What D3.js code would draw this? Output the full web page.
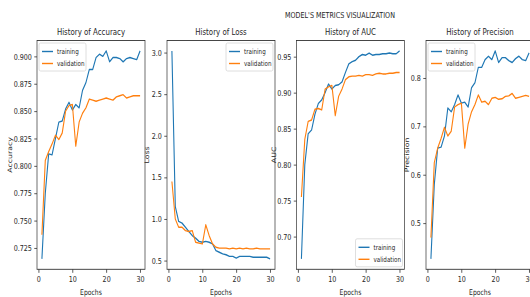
<!DOCTYPE html>
<html><head><meta charset="utf-8">
<script src="https://cdn.jsdelivr.net/npm/d3@7"></script>
<style>body{margin:0;background:#fff;overflow:hidden} text{font-family:"DejaVu Sans",sans-serif;fill:#262626}</style>
</head><body><svg id="c" width="530" height="297"></svg>
<script>
const epochs = d3.range(1, 31);
const xTicks = [0, 10, 20, 30];

const accTrain = [0.715,0.775,0.811,0.810,0.825,0.840,0.841,0.852,0.858,0.851,0.856,0.853,0.869,0.876,0.888,0.888,0.899,0.902,0.900,0.905,0.895,0.899,0.899,0.898,0.895,0.898,0.899,0.898,0.897,0.905];
const accVal   = [0.737,0.805,0.813,0.820,0.828,0.824,0.830,0.850,0.855,0.856,0.818,0.840,0.848,0.853,0.861,0.860,0.859,0.860,0.861,0.862,0.861,0.860,0.863,0.864,0.865,0.862,0.863,0.864,0.864,0.864];
const accTicks = [0.725,0.750,0.775,0.800,0.825,0.850,0.875,0.900];

const lossTrain = [3.02,1.15,0.97,0.95,0.90,0.85,0.80,0.77,0.73,0.72,0.73,0.72,0.70,0.62,0.60,0.58,0.57,0.55,0.55,0.53,0.55,0.55,0.55,0.55,0.54,0.54,0.54,0.54,0.54,0.52];
const lossVal   = [1.45,1.00,0.90,0.90,0.86,0.85,0.86,0.72,0.71,0.70,0.93,0.80,0.70,0.66,0.65,0.65,0.65,0.64,0.65,0.64,0.65,0.64,0.65,0.64,0.64,0.65,0.64,0.64,0.64,0.64];
const lossTicks = [0.5,1.0,1.5,2.0,2.5,3.0];

const aucTrain = [0.669,0.800,0.843,0.848,0.870,0.885,0.890,0.900,0.912,0.905,0.910,0.911,0.915,0.928,0.940,0.943,0.945,0.950,0.953,0.952,0.955,0.952,0.953,0.953,0.954,0.954,0.955,0.954,0.954,0.958];
const aucVal   = [0.755,0.835,0.860,0.862,0.877,0.878,0.876,0.905,0.908,0.910,0.868,0.895,0.905,0.918,0.922,0.923,0.923,0.924,0.923,0.925,0.925,0.924,0.926,0.927,0.926,0.926,0.927,0.927,0.928,0.928];
const aucTicks = [0.70,0.75,0.80,0.85,0.90,0.95];

const precTrain = [0.426,0.580,0.655,0.657,0.680,0.738,0.730,0.745,0.765,0.748,0.750,0.740,0.780,0.790,0.822,0.822,0.838,0.845,0.838,0.856,0.832,0.842,0.842,0.836,0.832,0.840,0.845,0.838,0.836,0.852];
const precVal   = [0.470,0.625,0.655,0.675,0.698,0.680,0.690,0.740,0.745,0.748,0.655,0.705,0.730,0.745,0.765,0.750,0.752,0.745,0.758,0.760,0.756,0.757,0.762,0.763,0.768,0.758,0.760,0.762,0.764,0.762];
const precTicks = [0.5,0.6,0.7,0.8];

const seriesNames = ["training", "validation"];
const colors = ["#1f77b4", "#ff7f0e"];

const sx = 0.78;
const svg = d3.select("#c");
const root = svg.append("g").attr("transform", `scale(${sx},1)`);

const panels = [
  {title:"History of Accuracy", ylabel:"Accuracy", train:accTrain, val:accVal, ticks:accTicks, fmt:".3f", legend:"tl", left:37, ylx:10},
  {title:"History of Loss", ylabel:"Loss", train:lossTrain, val:lossVal, ticks:lossTicks, fmt:".1f", legend:"tr", left:167, ylx:147},
  {title:"History of AUC", ylabel:"AUC", train:aucTrain, val:aucVal, ticks:aucTicks, fmt:".2f", legend:"br", left:296.5, ylx:273.5},
  {title:"History of Precision", ylabel:"Precision", train:precTrain, val:precVal, ticks:precTicks, fmt:".1f", legend:"tl", left:426, ylx:406.5}
];
const pTop = 40.5, pBottom = 269.3, pw = 108;
const tickFont = 8.2;

root.append("text").attr("x", 340/sx).attr("y", 18).attr("text-anchor","middle")
  .attr("font-size", 8.2).text("MODEL'S METRICS VISUALIZATION");

panels.forEach(p => {
  const L = p.left/sx, R = (p.left+pw)/sx;
  const x = d3.scaleLinear().domain([1-1.45, 30+1.45]).range([L, R]);
  const ext = d3.extent(p.train.concat(p.val));
  const pad = (ext[1]-ext[0])*0.05;
  const y = d3.scaleLinear().domain([ext[0]-pad, ext[1]+pad]).range([pBottom, pTop]);
  const g = root.append("g");

  const xa = g.append("g").attr("transform", `translate(0,${pBottom})`)
    .call(d3.axisBottom(x).tickValues(xTicks).tickSize(3.5).tickPadding(3).tickFormat(d3.format("d")));
  const ya = g.append("g").attr("transform", `translate(${L},0)`)
    .call(d3.axisLeft(y).tickValues(p.ticks).tickSize(3.5).tickPadding(3).tickFormat(d3.format(p.fmt)));
  [xa, ya].forEach(a => {
    a.select(".domain").remove();
    a.selectAll("line").attr("stroke", "#333").attr("stroke-width", 0.9);
    a.selectAll("text").attr("font-size", tickFont).attr("font-family", "DejaVu Sans").attr("fill", "#262626");
  });

  const line = d3.line().x((d,i) => x(epochs[i])).y(d => y(d));
  [p.train, p.val].forEach((s, k) => {
    g.append("path").datum(s).attr("d", line).attr("fill","none")
      .attr("stroke", colors[k]).attr("stroke-width", 1.4).attr("stroke-linejoin","round");
  });

  g.append("rect").attr("x", L).attr("y", pTop).attr("width", R-L).attr("height", pBottom-pTop)
    .attr("fill","none").attr("stroke","#333").attr("stroke-width", 0.9);

  g.append("text").attr("x", (L+R)/2).attr("y", 35).attr("text-anchor","middle")
    .attr("font-size", 9).text(p.title);
  g.append("text").attr("x", (L+R)/2).attr("y", 295).attr("text-anchor","middle")
    .attr("font-size", 7.8).text("Epochs");
  g.append("text").attr("transform", `translate(${p.ylx/sx},${(pTop+pBottom)/2}) rotate(-90)`)
    .attr("text-anchor","middle").attr("dy","0.35em").attr("font-size", 7.8).text(p.ylabel);

  // legend
  const lw = 47/sx, lh = 28;
  let lx, ly;
  if (p.legend === "tl") { lx = L + 2/sx; ly = pTop + 2.5; }
  else if (p.legend === "tr") { lx = R - 2/sx - lw; ly = pTop + 2.5; }
  else { lx = R - 2/sx - lw; ly = pBottom - 2.5 - lh; }
  const lg = g.append("g").attr("transform", `translate(${lx},${ly})`);
  lg.append("rect").attr("width", lw).attr("height", lh).attr("rx", 2)
    .attr("fill","#fff").attr("fill-opacity",0.85).attr("stroke","#d0d0d0").attr("stroke-width",0.8);
  seriesNames.forEach((n, k) => {
    const yy = 8.5 + k*12;
    lg.append("line").attr("x1", 3/sx).attr("x2", 14/sx).attr("y1", yy).attr("y2", yy)
      .attr("stroke", colors[k]).attr("stroke-width", 1.4);
    lg.append("text").attr("x", 18/sx).attr("y", yy).attr("dy","0.35em")
      .attr("font-size", 7.2).text(n);
  });
});
</script></body></html>
